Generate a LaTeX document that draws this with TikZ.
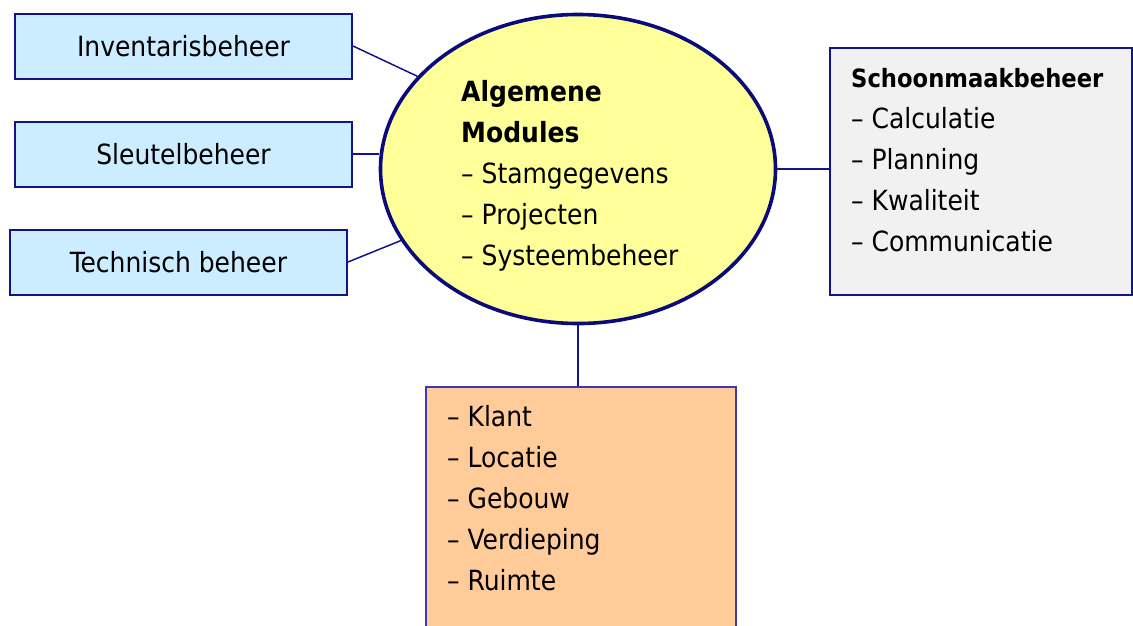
\documentclass[tikz,border=0pt]{standalone}
\usepackage{fontspec}
\setmainfont{DejaVu Sans Condensed}
\usepackage{tikz}
\usetikzlibrary{shapes.geometric}

\definecolor{navy}{HTML}{14148A}
\definecolor{donkernavy}{HTML}{0A0A7A}
\definecolor{lichtblauw}{HTML}{CCECFF}
\definecolor{lichtgeel}{HTML}{FFFF99}
\definecolor{lichtgrijs}{HTML}{F1F1F1}
\definecolor{oranje}{HTML}{FFCC99}
\definecolor{randblauw}{HTML}{3A3AB4}

\tikzset{
    module/.style={draw=navy, line width=2pt, fill=lichtblauw, inner sep=0pt,
        minimum width=337pt, minimum height=65pt, font=\fontsize{27.8}{41}\selectfont},
    lijst/.style={anchor=north west, inner sep=0pt, align=left,
        font=\fontsize{27.8}{41}\selectfont},
    koppel/.style={draw=navy, line width=1.5pt}
}

\begin{document}
\begin{tikzpicture}[x=1pt, y=-1pt]
        \useasboundingbox (0,0) rectangle (1133,625);
        \clip (0,0) rectangle (1133,625);

        % linker modules
        \node [module] (inventaris) at (183.5,46) {Inventarisbeheer};
        \node [module] (sleutel) at (183.5,154) {Sleutelbeheer};
        \node [module] (technisch) at (178.5,262) {Technisch beheer};

        % algemene modules
        \node [ellipse, draw=donkernavy, line width=3.6pt, fill=lichtgeel, inner sep=0pt,
            minimum width=395pt, minimum height=309pt] (algemeen) at (578,169) {};
        \node [lijst] (algtekst) at (461,80)
            {\textbf{Algemene}\\\textbf{Modules}\\-- Stamgegevens\\-- Projecten\\-- Systeembeheer};

        % schoonmaak
        \node [draw=navy, line width=2pt, fill=lichtgrijs, inner sep=0pt,
            minimum width=302pt, minimum height=247pt] (schoonmaak) at (980.5,171) {};
        \node [lijst] (schoontekst) at (851,68)
            {{\bfseries\fontsize{25.2}{41}\selectfont Schoonmaakbeheer}\\-- Calculatie\\-- Planning\\-- Kwaliteit\\-- Communicatie};

        % locaties
        \node [draw=randblauw, line width=2pt, fill=oranje, inner sep=0pt,
            minimum width=310pt, minimum height=280pt, anchor=north] (locatie) at (580.5,386) {};
        \node [lijst] (loctekst) at (447,405)
            {-- Klant\\-- Locatie\\-- Gebouw\\-- Verdieping\\-- Ruimte};

        \draw [koppel] (inventaris.east) -- (algemeen.150);
        \draw [koppel] (sleutel.east) -- (sleutel.east -| algemeen.west);
        \draw [koppel] (technisch.east) -- (algemeen.202);
        \draw [koppel] (algemeen.east) -- (algemeen.east -| schoonmaak.west);
        \draw [koppel] (algemeen.south) -- (algemeen.south |- locatie.north);

    \end{tikzpicture}
\end{document}
